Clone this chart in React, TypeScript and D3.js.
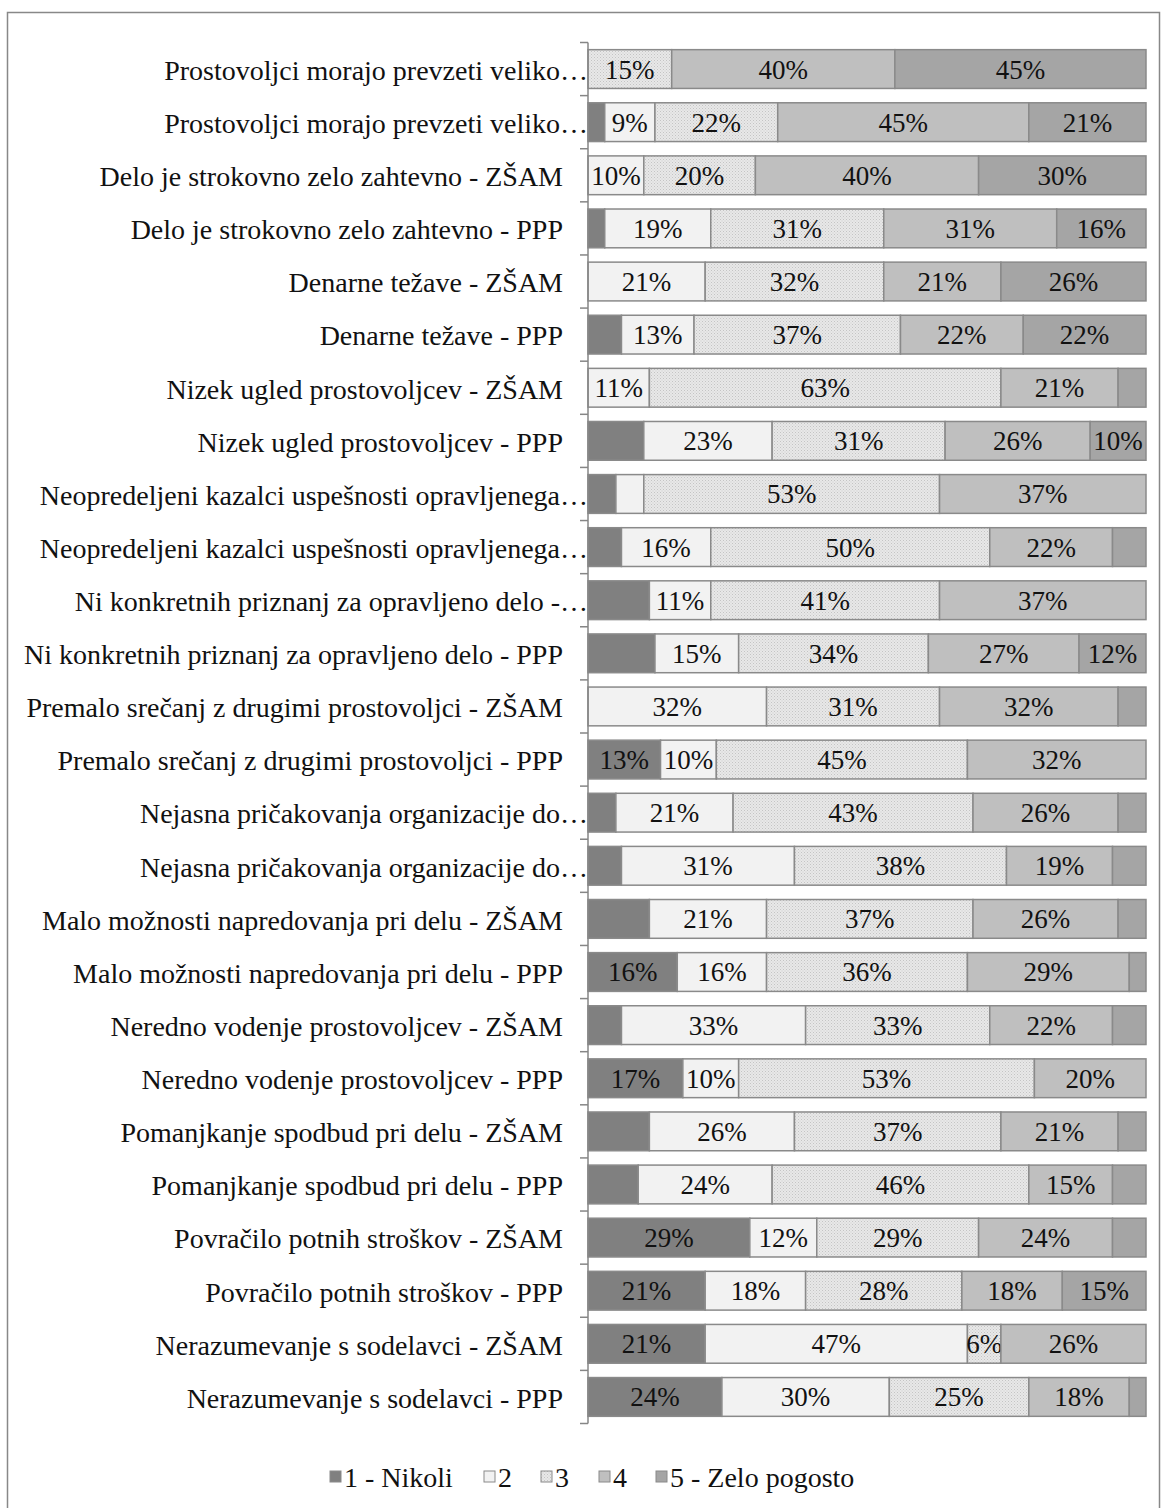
import React from 'react';
import * as d3 from 'd3';

const categories = [
  'Prostovoljci morajo prevzeti veliko…',
  'Prostovoljci morajo prevzeti veliko…',
  'Delo je strokovno zelo zahtevno - ZŠAM',
  'Delo je strokovno zelo zahtevno - PPP',
  'Denarne težave - ZŠAM',
  'Denarne težave - PPP',
  'Nizek ugled prostovoljcev - ZŠAM',
  'Nizek ugled prostovoljcev - PPP',
  'Neopredeljeni kazalci uspešnosti opravljenega…',
  'Neopredeljeni kazalci uspešnosti opravljenega…',
  'Ni konkretnih priznanj za opravljeno delo -…',
  'Ni konkretnih priznanj za opravljeno delo - PPP',
  'Premalo srečanj z drugimi prostovoljci - ZŠAM',
  'Premalo srečanj z drugimi prostovoljci - PPP',
  'Nejasna pričakovanja organizacije do…',
  'Nejasna pričakovanja organizacije do…',
  'Malo možnosti napredovanja pri delu - ZŠAM',
  'Malo možnosti napredovanja pri delu - PPP',
  'Neredno vodenje prostovoljcev - ZŠAM',
  'Neredno vodenje prostovoljcev - PPP',
  'Pomanjkanje spodbud pri delu - ZŠAM',
  'Pomanjkanje spodbud pri delu - PPP',
  'Povračilo potnih stroškov - ZŠAM',
  'Povračilo potnih stroškov - PPP',
  'Nerazumevanje s sodelavci - ZŠAM',
  'Nerazumevanje s sodelavci - PPP',
];

const seriesNames = ['1 - Nikoli', '2', '3', '4', '5 - Zelo pogosto'];

const nikoli = [0, 3, 0, 3, 0, 6, 0, 10, 5, 6, 11, 12, 0, 13, 5, 6, 11, 16, 6, 17, 11, 9, 29, 21, 21, 24];
const s2 = [0, 9, 10, 19, 21, 13, 11, 23, 5, 16, 11, 15, 32, 10, 21, 31, 21, 16, 33, 10, 26, 24, 12, 18, 47, 30];
const s3 = [15, 22, 20, 31, 32, 37, 63, 31, 53, 50, 41, 34, 31, 45, 43, 38, 37, 36, 33, 53, 37, 46, 29, 28, 6, 25];
const s4 = [40, 45, 40, 31, 21, 22, 21, 26, 37, 22, 37, 27, 32, 32, 26, 19, 26, 29, 22, 20, 21, 15, 24, 18, 26, 18];
const zeloPogosto = [45, 21, 30, 16, 26, 22, 5, 10, 0, 6, 0, 12, 5, 0, 5, 6, 5, 3, 6, 0, 5, 6, 6, 15, 0, 3];

// smallest value that still gets a data label, per series
const labelMin = [13, 9, 6, 9, 9];

const fills = ['#808080', '#f2f2f2', 'url(#hatch)', '#bfbfbf', '#a5a5a5'];

const W = 1163;
const H = 1508;
const font = "'Liberation Serif', 'Times New Roman', serif";
const fs = 28;
const fsVal = 27;

export default function App() {
  const values = [nikoli, s2, s3, s4, zeloPogosto];
  const rows = categories.map((c, i) => {
    const r: any = { cat: c, idx: i };
    seriesNames.forEach((s, j) => (r[s] = values[j][i]));
    return r;
  });
  const stack = d3.stack<any>().keys(seriesNames)(rows);

  const x = d3.scaleLinear().domain([0, 100]).range([588, 1146]);
  const y = d3
    .scaleBand<number>()
    .domain(d3.range(categories.length))
    .range([42.5, 1423.5])
    .paddingInner(0.27)
    .paddingOuter(0.135);

  const step = y.step();
  const ticks = d3.range(categories.length + 1).map((i) => 42.5 + i * step);

  const legendX = [330, 484, 541, 599, 656];

  return (
    <svg
      width={W}
      height={H}
      style={{ position: 'absolute', left: 0, top: 0, background: '#fff', fontFamily: font }}
    >
      <defs>
        <pattern id="hatch" width="3" height="3" patternUnits="userSpaceOnUse">
          <rect width="3" height="3" fill="#e8e8e8" />
          <rect x="0" y="0" width="1" height="1" fill="#c4c4c4" />
          <rect x="1.5" y="1.5" width="1" height="1" fill="#cfcfcf" />
        </pattern>
      </defs>
      <rect x={7.5} y={12.5} width={1152} height={1520} fill="none" stroke="#888" strokeWidth={1.5} />

      {stack.map((layer, j) => (
        <g key={layer.key}>
          {layer.map((d, i) => {
            const v = values[j][i];
            if (v <= 0) return null;
            const x0 = x(d[0]);
            const x1 = x(d[1]);
            return (
              <g key={i}>
                <rect
                  x={x0}
                  y={y(i)}
                  width={x1 - x0}
                  height={y.bandwidth()}
                  fill={fills[j]}
                  stroke="#8a8a8a"
                  strokeWidth={1.5}
                />
                {v >= labelMin[j] && (
                  <text
                    x={(x0 + x1) / 2}
                    y={y(i)! + y.bandwidth() / 2}
                    dy="0.35em"
                    textAnchor="middle"
                    fontSize={fsVal}
                    fill="#111"
                    style={{ fontFamily: font }}
                  >
                    {v}%
                  </text>
                )}
              </g>
            );
          })}
        </g>
      ))}

      <line x1={588} x2={588} y1={42.5} y2={1423.5} stroke="#868686" strokeWidth={1.5} />
      {ticks.map((t, i) => (
        <line key={i} x1={580} x2={588} y1={t} y2={t} stroke="#868686" strokeWidth={1.5} />
      ))}

      {categories.map((c, i) => (
        <text
          key={i}
          x={c.endsWith('…') ? 588 : 563}
          y={y(i)! + y.bandwidth() / 2 + 1}
          dy="0.35em"
          textAnchor="end"
          fontSize={fs}
          fill="#111"
          style={{ fontFamily: font }}
        >
          {c}
        </text>
      ))}

      {seriesNames.map((s, j) => (
        <g key={s} transform={`translate(${legendX[j]},1477)`}>
          <rect x={0} y={-6} width={11} height={11} fill={fills[j]} stroke="#8a8a8a" strokeWidth={1} />
          <text x={14} y={0} dy="0.35em" fontSize={fs} fill="#111" style={{ fontFamily: font }}>
            {s}
          </text>
        </g>
      ))}
    </svg>
  );
}
